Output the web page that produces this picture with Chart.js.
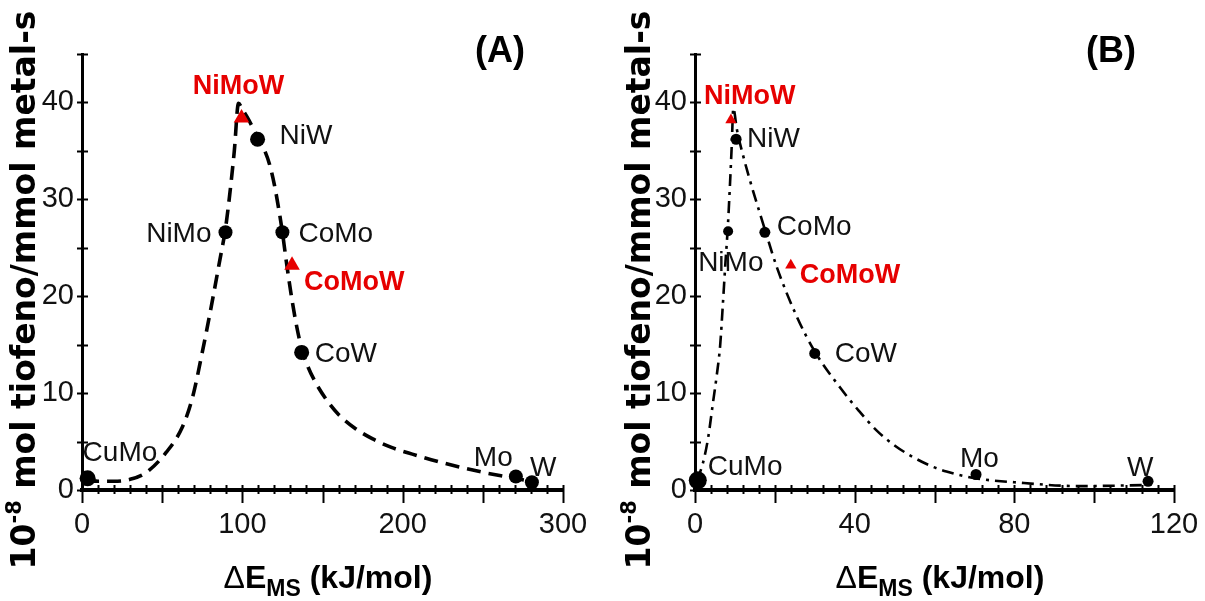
<!DOCTYPE html>
<html>
<head>
<meta charset="utf-8">
<script src="https://cdn.jsdelivr.net/npm/chart.js@4.4.1/dist/chart.umd.min.js"></script>
<style>
  body { margin: 0; background: #fff; }
  .panel { position: absolute; top: 0; }
  #panelA { left: 0; }
  #panelB { left: 600px; }
</style>
</head>
<body>
<div class="panel" id="panelA"><canvas id="chartA" width="600" height="601"></canvas></div>
<div class="panel" id="panelB"><canvas id="chartB" width="605" height="601"></canvas></div>
<script>
// ---- panel A: dE_MS 0-300 kJ/mol ----
const namesA = ['CuMo', 'NiMo', 'NiW', 'CoMo', 'CoW', 'Mo', 'W'];
const xA = [3.5, 89.5, 109.5, 125, 137, 270.6, 280.6];
const yA = [1.2, 26.6, 36.2, 26.6, 14.2, 1.4, 0.8];
const triNamesA = ['NiMoW', 'CoMoW'];
const triXA = [99.5, 131];
const triYA = [38.4, 23.2];
const curveXA = [2, 10, 20, 30, 40, 52.6, 62.6, 69, 75, 80.7, 85.7, 89.5, 92, 95, 97.6, 100, 104, 109.5, 114, 117, 120, 122.5, 125, 127.5, 131, 134, 137, 141, 146, 153, 160, 170, 181, 193, 206, 223, 248, 267, 280];
const curveYA = [1.1, 0.9, 0.9, 1.1, 1.8, 3.9, 6.5, 9.6, 14.2, 19, 23.5, 27, 30.3, 35, 39.9, 39.3, 38.2, 36.4, 35, 33.6, 31.5, 29.2, 26.6, 23.5, 19.6, 16.8, 14.6, 12.7, 11.0, 9.2, 7.8, 6.4, 5.3, 4.4, 3.7, 2.9, 1.9, 1.3, 0.9];
const xLabelsA = [0, 100, 200, 300];

// ---- panel B: dE_MS 0-120 kJ/mol ----
const namesB = ['CuMo', 'NiMo', 'NiW', 'CoMo', 'CoW', 'Mo', 'W'];
const xB = [0.7, 8.3, 10.3, 17.5, 30, 70.4, 113.5];
const yB = [1.0, 26.7, 36.2, 26.6, 14.1, 1.6, 0.9];
const triNamesB = ['NiMoW', 'CoMoW'];
const triXB = [9.0, 24];
const triYB = [38.2, 23.2];
const curveXB = [0.5, 2, 3.3, 4.5, 5.5, 6.3, 7, 7.6, 8.2, 8.7, 9.2, 9.6, 10.5, 12, 14.3, 16.3, 17.5, 20.5, 25.5, 30, 36.3, 41, 45.6, 50, 54.6, 59, 63, 70.4, 80, 96.5, 112];
const curveYB = [1, 2.8, 5.4, 9, 12, 14.9, 19.3, 23.3, 27, 31, 35.5, 39.4, 37.2, 34.6, 31.2, 28.5, 26.9, 23.0, 17.9, 14.3, 10.6, 8.2, 6.1, 4.6, 3.4, 2.5, 1.9, 1.2, 0.8, 0.4, 0.5];
const xLabelsB = [0, 40, 80, 120];

const yLabels = [0, 10, 20, 30, 40];

const RED = '#e60000';
const thin = "'Liberation Sans', Arial, sans-serif";
const heavy = "'DejaVu Sans', 'Liberation Sans', sans-serif";

const toXY = (xs, ys) => xs.map((x, i) => ({ x: x, y: ys[i] }));

// tick marks crossing the axes, drawn from the scales
const tickMarks = {
  id: 'tickMarks',
  afterDatasetsDraw(chart, args, opts) {
    const { ctx, chartArea: ca, scales } = chart;
    ctx.save();
    ctx.strokeStyle = '#000';
    ctx.lineWidth = 2;
    scales.x.ticks.forEach(t => {
      const px = Math.round(scales.x.getPixelForValue(t.value)) + 0.5;
      const big = t.value % opts.xMajor === 0;
      ctx.beginPath();
      ctx.moveTo(px, ca.bottom - 5);
      ctx.lineTo(px, ca.bottom + (big ? 13 : 4));
      ctx.stroke();
    });
    scales.y.ticks.forEach(t => {
      const py = Math.round(scales.y.getPixelForValue(t.value)) + 0.5;
      ctx.beginPath();
      ctx.moveTo(ca.left - 5, py);
      ctx.lineTo(ca.left + 6, py);
      ctx.stroke();
    });
    ctx.restore();
  }
};

// point labels, panel tag and axis titles
const annotate = {
  id: 'annotate',
  afterDraw(chart, args, opts) {
    const { ctx, scales } = chart;
    ctx.save();
    ctx.textBaseline = 'alphabetic';
    opts.points.forEach(p => {
      const o = opts.offsets[p.name];
      const px = scales.x.getPixelForValue(p.x) + o[0];
      const py = scales.y.getPixelForValue(p.y) + o[1];
      ctx.textAlign = o[2];
      if (p.red) {
        ctx.fillStyle = RED;
        ctx.font = 'bold 27px ' + thin;
      } else {
        ctx.fillStyle = '#111';
        ctx.font = '28px ' + thin;
      }
      ctx.fillText(p.name, px, py);
    });

    // (A) / (B)
    ctx.fillStyle = '#000';
    ctx.textAlign = 'center';
    ctx.font = 'bold 36px ' + thin;
    ctx.fillText(opts.tag, opts.tagX, 62);

    // y title with superscript
    const ys = [
      { t: '10', f: 'bold 33px ' + heavy, dy: 0 },
      { t: '-8', f: 'bold 21px ' + heavy, dy: -14 },
      { t: ' mol tiofeno/mmol metal-s', f: 'bold 33px ' + heavy, dy: 0 }
    ];
    let total = 0;
    ys.forEach(s => { ctx.font = s.f; s.w = ctx.measureText(s.t).width; total += s.w; });
    ctx.save();
    ctx.translate(opts.yTitleX, 290);
    ctx.rotate(-Math.PI / 2);
    ctx.textAlign = 'left';
    let cx = -total / 2;
    ys.forEach(s => { ctx.font = s.f; ctx.fillText(s.t, cx, s.dy); cx += s.w; });
    ctx.restore();

    // x title with subscript
    const xs = [
      { t: '\u0394', f: '32px ' + thin, dy: 0 },
      { t: 'E', f: 'bold 32px ' + thin, dy: 0 },
      { t: 'MS', f: 'bold 23px ' + thin, dy: 8 },
      { t: ' (kJ/mol)', f: 'bold 32px ' + thin, dy: 0 }
    ];
    total = 0;
    xs.forEach(s => { ctx.font = s.f; s.w = ctx.measureText(s.t).width; total += s.w; });
    ctx.textAlign = 'left';
    cx = opts.xTitleX - total / 2;
    xs.forEach(s => { ctx.font = s.f; ctx.fillText(s.t, cx, 588 + s.dy); cx += s.w; });
    ctx.restore();
  }
};

function makePanel(id, p) {
  const points = [];
  p.names.forEach((n, i) => points.push({ name: n, x: p.xs[i], y: p.ys[i], red: false }));
  p.triNames.forEach((n, i) => points.push({ name: n, x: p.triX[i], y: p.triY[i], red: true }));

  return new Chart(document.getElementById(id), {
    type: 'scatter',
    data: {
      datasets: [
        {
          data: toXY(p.triX, p.triY),
          pointStyle: 'triangle',
          pointRadius: p.triRadius,
          backgroundColor: RED,
          borderColor: RED,
          borderWidth: 0,
          clip: false
        },
        {
          data: toXY(p.xs, p.ys),
          pointStyle: 'circle',
          pointRadius: p.radii,
          backgroundColor: '#000',
          borderColor: '#000',
          borderWidth: 0,
          clip: false
        },
        {
          data: toXY(p.cx, p.cy),
          showLine: true,
          cubicInterpolationMode: 'monotone',
          pointRadius: 0,
          borderColor: '#000',
          borderWidth: p.lineWidth,
          borderDash: p.dash,
          fill: false
        }
      ]
    },
    options: {
      responsive: false,
      animation: false,
      events: [],
      layout: { padding: { top: 54, right: p.padRight, left: 0, bottom: 0 } },
      plugins: {
        legend: { display: false },
        tooltip: { enabled: false },
        tickMarks: { xMajor: p.xMajor },
        annotate: {
          points: points,
          offsets: p.offsets,
          tag: p.tag,
          tagX: p.tagX,
          yTitleX: p.yTitleX,
          xTitleX: p.xTitleX
        }
      },
      scales: {
        x: {
          type: 'linear',
          min: 0,
          max: p.xMax,
          grid: { display: false, drawTicks: false },
          border: { display: true, color: '#000', width: 4 },
          ticks: {
            stepSize: p.xStep,
            autoSkip: false,
            maxRotation: 0,
            padding: 18,
            color: '#111',
            font: { family: thin, size: 29 },
            callback: v => p.xLabels.includes(v) ? String(v) : ''
          },
          afterFit: s => { s.height = 111; s.paddingLeft = 0; s.paddingRight = 0; }
        },
        y: {
          type: 'linear',
          min: 0,
          max: 45,
          grid: { display: false, drawTicks: false },
          border: { display: true, color: '#000', width: 3 },
          ticks: {
            stepSize: 5,
            autoSkip: false,
            padding: 8,
            color: '#111',
            font: { family: thin, size: 29 },
            callback: v => yLabels.includes(v) ? String(v) : ''
          },
          afterFit: s => { s.width = p.yWidth; }
        }
      }
    },
    plugins: [tickMarks, annotate]
  });
}

makePanel('chartA', {
  names: namesA, xs: xA, ys: yA,
  triNames: triNamesA, triX: triXA, triY: triYA,
  cx: curveXA, cy: curveYA,
  xLabels: xLabelsA, xMax: 300, xStep: 10, xMajor: 50,
  radii: [8, 7, 7.5, 7, 7.5, 7, 7], triRadius: 9,
  lineWidth: 3.6, dash: [14, 8],
  yWidth: 82, padRight: 37,
  tag: '(A)', tagX: 500, yTitleX: 35, xTitleX: 328,
  offsets: {
    CuMo: [-5, -17, 'left'], NiMo: [-14, 10, 'right'], NiMoW: [-3, -24, 'center'],
    NiW: [22, 5, 'left'], CoMo: [16, 10, 'left'], CoMoW: [12, 25, 'left'],
    CoW: [13, 10, 'left'], Mo: [-42, -10, 'left'], W: [-2, -6, 'left']
  }
});

makePanel('chartB', {
  names: namesB, xs: xB, ys: yB,
  triNames: triNamesB, triX: triXB, triY: triYB,
  cx: curveXB, cy: curveYB,
  xLabels: xLabelsB, xMax: 120, xStep: 4, xMajor: 20,
  radii: [9, 5, 5.5, 5.5, 5.5, 5.5, 5.5], triRadius: 6.5,
  lineWidth: 2.6, dash: [12, 6, 3, 6],
  yWidth: 95, padRight: 31,
  tag: '(B)', tagX: 511, yTitleX: 50, xTitleX: 340,
  offsets: {
    CuMo: [10, -5, 'left'], NiMo: [-30, 40, 'left'], NiMoW: [-27, -16, 'left'],
    NiW: [11, 8, 'left'], CoMo: [12, 3, 'left'], CoMoW: [9, 18, 'left'],
    CoW: [20, 9, 'left'], Mo: [-16, -7, 'left'], W: [-21, -5, 'left']
  }
});
</script>
</body>
</html>
